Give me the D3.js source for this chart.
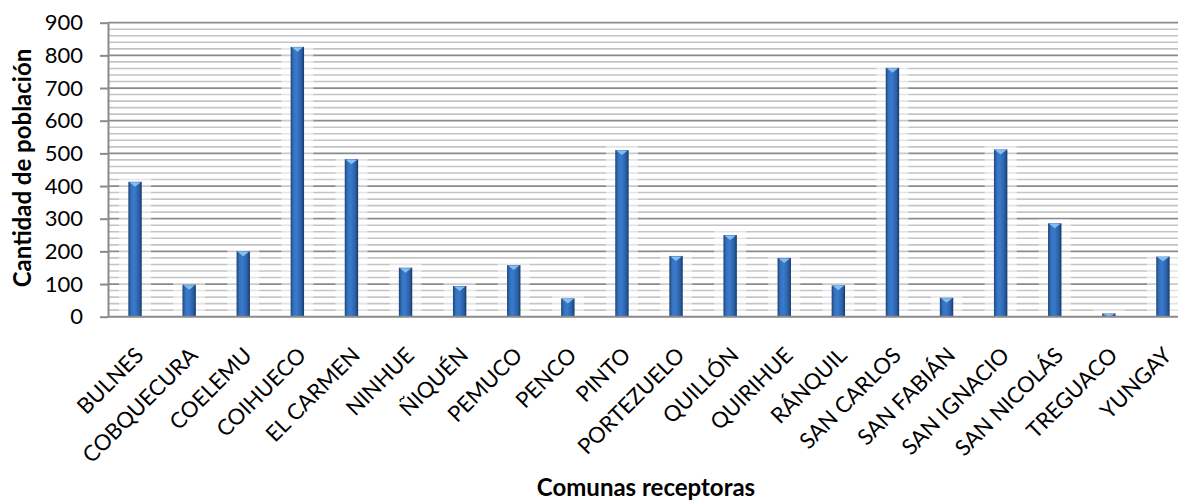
<!DOCTYPE html>
<html>
<head>
<meta charset="utf-8">
<script src="https://cdn.jsdelivr.net/npm/d3@7"></script>
<style>
  html, body { margin: 0; padding: 0; background: #fff; }
  svg { display: block; font-family: Lato, "Open Sans", sans-serif; }
</style>
</head>
<body>
<svg id="chart"></svg>
<script>
// data
const categories = ["BULNES", "COBQUECURA", "COELEMU", "COIHUECO", "EL CARMEN", "NINHUE",
  "ÑIQUÉN", "PEMUCO", "PENCO", "PINTO", "PORTEZUELO", "QUILLÓN", "QUIRIHUE", "RÁNQUIL",
  "SAN CARLOS", "SAN FABIÁN", "SAN IGNACIO", "SAN NICOLÁS", "TREGUACO", "YUNGAY"];
const poblacion = [413, 98, 200, 826, 482, 150, 94, 158, 56, 510, 186, 250, 180, 96,
  762, 58, 512, 286, 10, 184];
const yTicks = [0, 100, 200, 300, 400, 500, 600, 700, 800, 900];
const yTitle = "Cantidad de población";
const xTitle = "Comunas receptoras";

const width = 1178, height = 501;
const margin = { top: 22.7, left: 108, bottom: 316.7 };
const band = 54.1;

const svg = d3.select("#chart")
  .attr("width", width)
  .attr("height", height);

const scaleX = d3.scaleBand()
  .domain(categories)
  .range([margin.left, margin.left + band * categories.length]);

const scaleY = d3.scaleLinear()
  .domain([0, 900])
  .range([margin.bottom, margin.top]);

const barW = 13.4;

// gradient for the cylinder look
const defs = svg.append("defs");
const grad = defs.append("linearGradient").attr("id", "barGrad")
  .attr("x1", "0%").attr("x2", "100%").attr("y1", "0%").attr("y2", "0%");
grad.append("stop").attr("offset", "0%").attr("stop-color", "#1e4478");
grad.append("stop").attr("offset", "22%").attr("stop-color", "#3573c0");
grad.append("stop").attr("offset", "45%").attr("stop-color", "#3a7acb");
grad.append("stop").attr("offset", "80%").attr("stop-color", "#2a5fa6");
grad.append("stop").attr("offset", "100%").attr("stop-color", "#173966");

// minor gridlines every 20
svg.append("g")
  .selectAll("line")
  .data(d3.range(20, 901, 20).filter(v => v % 100 !== 0))
  .join("line")
  .attr("x1", margin.left).attr("x2", width)
  .attr("y1", d => scaleY(d)).attr("y2", d => scaleY(d))
  .attr("stroke", "#c4c4c4")
  .attr("stroke-width", 1.6);

// major gridlines
svg.append("g")
  .selectAll("line")
  .data(yTicks.filter(v => v > 0))
  .join("line")
  .attr("x1", margin.left).attr("x2", width)
  .attr("y1", d => scaleY(d)).attr("y2", d => scaleY(d))
  .attr("stroke", "#8a8a8a")
  .attr("stroke-width", 1.8);

// soft white halo behind bars
svg.append("g")
  .selectAll("rect")
  .data(categories)
  .join("rect")
  .attr("x", d => scaleX(d) + scaleX.bandwidth() / 2 - 16)
  .attr("y", (d, i) => scaleY(poblacion[i]) - 4)
  .attr("width", 32)
  .attr("height", (d, i) => margin.bottom - scaleY(poblacion[i]) + 4)
  .attr("fill", "#fff")
  .attr("opacity", 0.55);

// bars
const bars = svg.append("g");
bars.selectAll("rect")
  .data(categories)
  .join("rect")
  .attr("x", d => scaleX(d) + (scaleX.bandwidth() - barW) / 2)
  .attr("y", (d, i) => scaleY(poblacion[i]))
  .attr("width", barW)
  .attr("height", (d, i) => margin.bottom - scaleY(poblacion[i]))
  .attr("fill", "url(#barGrad)");

// light-blue top caps
bars.selectAll("path")
  .data(categories)
  .join("path")
  .attr("d", (d, i) => {
    let x0 = scaleX(d) + (scaleX.bandwidth() - barW) / 2;
    let y0 = scaleY(poblacion[i]);
    let h = Math.min(5, margin.bottom - y0);
    return "M" + (x0 + 1) + "," + (y0 + 0.5) + "L" + (x0 + barW - 1) + "," + (y0 + 0.5) +
      "L" + (x0 + barW / 2) + "," + (y0 + h) + "Z";
  })
  .attr("fill", "#86bdf0");

// y axis
const yAxis = svg.append("g")
  .attr("transform", "translate(" + margin.left + ",0)")
  .call(d3.axisLeft(scaleY).tickValues(yTicks).tickSize(8).tickPadding(17).tickSizeOuter(0));
yAxis.select(".domain").attr("stroke", "#8a8a8a").attr("stroke-width", 2);
yAxis.selectAll(".tick line").attr("stroke", "#8a8a8a").attr("stroke-width", 2);
yAxis.selectAll(".tick text")
  .attr("font-size", 22)
  .attr("font-family", "Lato, sans-serif")
  .attr("fill", "#000");

// x axis baseline
svg.append("line")
  .attr("x1", margin.left).attr("x2", width)
  .attr("y1", margin.bottom).attr("y2", margin.bottom)
  .attr("stroke", "#8a8a8a").attr("stroke-width", 2);

// x labels, rotated
svg.append("g")
  .selectAll("text")
  .data(categories)
  .join("text")
  .attr("transform", d => "translate(" + (scaleX(d) + scaleX.bandwidth() / 2 + 10) + "," + (margin.bottom + 40) + ") rotate(-45)")
  .attr("text-anchor", "end")
  .attr("font-size", 22)
  .attr("fill", "#000")
  .text(d => d);

// axis titles
svg.append("text")
  .attr("transform", "translate(31,168) rotate(-90)")
  .attr("text-anchor", "middle")
  .attr("font-size", 24)
  .attr("font-weight", "bold")
  .text(yTitle);

svg.append("text")
  .attr("x", 646)
  .attr("y", 496)
  .attr("text-anchor", "middle")
  .attr("font-size", 24)
  .attr("font-weight", "bold")
  .text(xTitle);
</script>
</body>
</html>
